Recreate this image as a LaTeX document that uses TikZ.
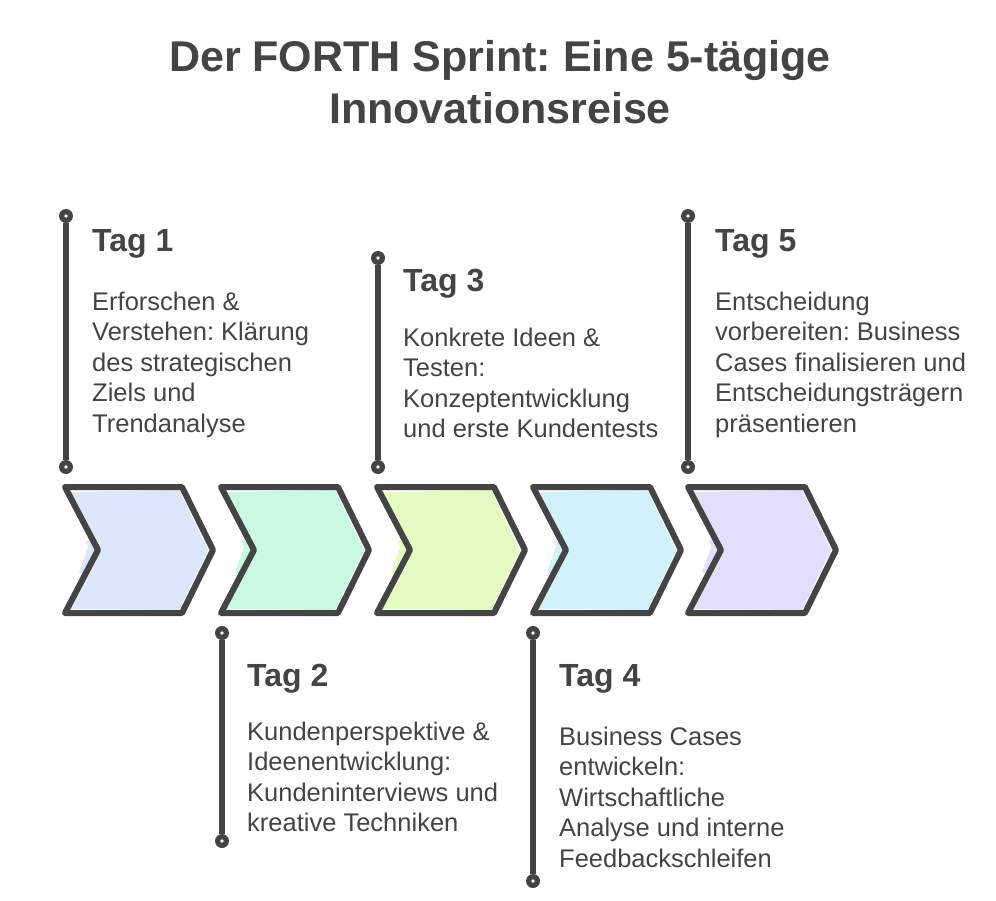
\documentclass[tikz,border=0pt]{standalone}
\usepackage{fontspec}
\setmainfont{Liberation Sans}
\frenchspacing
\definecolor{ink}{HTML}{444444}
\definecolor{cA}{HTML}{DCE7FB}
\definecolor{cB}{HTML}{C8F9E1}
\definecolor{cC}{HTML}{E4FBC2}
\definecolor{cD}{HTML}{D1F1FB}
\definecolor{cE}{HTML}{E2DEFB}
\newcommand{\chevronat}[2]{%
  \fill[#2] (#1+4,492) -- (#1+114,490) -- (#1+143,550) -- (#1+114,610) -- (#1+4,609) -- (#1+37,550) -- cycle;
  \fill[#2,rotate around={-20:(#1+70,550)}] (#1+25,515) rectangle (#1+110,590);
  \fill[#2,rotate around={35:(#1+75,550)}] (#1+35,512) rectangle (#1+115,592);
  \draw[chev] (#1,487) -- (#1+117,487) -- (#1+148,550) -- (#1+117,613) -- (#1,613) -- (#1+33,550) -- cycle;}
\begin{document}
\begin{tikzpicture}[x=1pt,y=-1pt,
  chev/.style={draw=ink,line width=6pt,line join=round,line cap=round},
  marker/.style={circle,fill=ink,minimum size=14pt,inner sep=0pt,
    path picture={\fill[white] (path picture bounding box.center) circle (1.8pt);}},
  tline/.style={draw=ink,line width=6pt},
  tagtitle/.style={anchor=base west,inner sep=0pt,text=ink,font=\fontsize{32}{38}\selectfont\bfseries},
  tagbody/.style={anchor=base west,inner sep=0pt,text=ink,font=\fontsize{25.5}{30.5}\selectfont},
  maintitle/.style={anchor=base,inner sep=0pt,text=ink,font=\fontsize{43}{52}\selectfont\bfseries}]
\useasboundingbox[fill=white] (0,0) rectangle (996,900);

% title
\node[maintitle] (title1) at (500,71.7) {Der FORTH Sprint: Eine 5-tägige};
\node[maintitle] (title2) at (500,123.3) {Innovationsreise};

% chevrons
\chevronat{65}{cA}
\chevronat{221}{cB}
\chevronat{377}{cC}
\chevronat{533}{cD}
\chevronat{688}{cE}

% timeline markers and lines
\node[marker] (m1a) at (66,216) {};
\node[marker] (m1b) at (66,467) {};
\node[marker] (m3a) at (378,258) {};
\node[marker] (m3b) at (378,467) {};
\node[marker] (m5a) at (688,216) {};
\node[marker] (m5b) at (688,467) {};
\node[marker] (m2a) at (222,633) {};
\node[marker] (m2b) at (222,841) {};
\node[marker] (m4a) at (533,633) {};
\node[marker] (m4b) at (533,881) {};
\draw[tline] (m1a) -- (m1b);
\draw[tline] (m3a) -- (m3b);
\draw[tline] (m5a) -- (m5b);
\draw[tline] (m2a) -- (m2b);
\draw[tline] (m4a) -- (m4b);

% texts
\node[tagtitle] (h1) at (92,251.7) {Tag 1};
\node[tagbody] (b1) at (92,310) {\begin{tabular}[t]{@{}l@{}}Erforschen \&\\Verstehen: Klärung\\des strategischen\\Ziels und\\Trendanalyse\end{tabular}};

\node[tagtitle] (h3) at (403,291.7) {Tag 3};
\node[tagbody] (b3) at (403,346) {\begin{tabular}[t]{@{}l@{}}Konkrete Ideen \&\\Testen:\\Konzeptentwicklung\\und erste Kundentests\end{tabular}};

\node[tagtitle] (h5) at (715,251.7) {Tag 5};
\node[tagbody] (b5) at (715,310) {\begin{tabular}[t]{@{}l@{}}Entscheidung\\vorbereiten: Business\\Cases finalisieren und\\Entscheidungsträgern\\präsentieren\end{tabular}};

\node[tagtitle] (h2) at (247,686.7) {Tag 2};
\node[tagbody] (b2) at (247,740) {\begin{tabular}[t]{@{}l@{}}Kundenperspektive \&\\Ideenentwicklung:\\Kundeninterviews und\\kreative Techniken\end{tabular}};

\node[tagtitle] (h4) at (559,686.7) {Tag 4};
\node[tagbody] (b4) at (559,745) {\begin{tabular}[t]{@{}l@{}}Business Cases\\entwickeln:\\Wirtschaftliche\\Analyse und interne\\Feedbackschleifen\end{tabular}};
\end{tikzpicture}
\end{document}
